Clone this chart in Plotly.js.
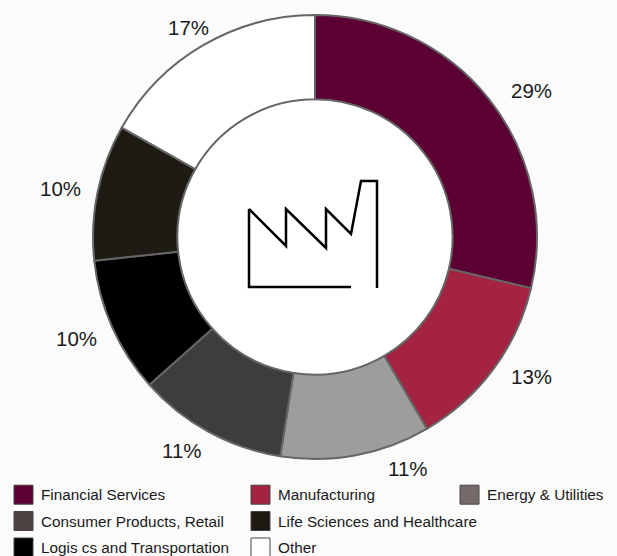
<!DOCTYPE html>
<html><head><meta charset="utf-8">
<script src="https://cdn.plot.ly/plotly-3.0.1.min.js"></script>
<style>html,body{margin:0;padding:0;background:#fbfbfb}</style></head>
<body><div id="chart" style="width:617px;height:556px"></div>
<script>
const W = 617, H = 556;
const sectors = ["Financial Services","Manufacturing","Energy & Utilities","Consumer Products, Retail","Logistics and Transportation","Life Sciences and Healthcare","Other"];
const shares = [28.7,12.9,10.9,10.9,9.9,9.9,16.8];
const shareLabels = ["29%","13%","11%","11%","10%","10%","17%"];
const sliceColors = ["#5c0033","#a32340","#9d9d9b","#3d3d3b","#000000","#1e1b14","#ffffff"];
const labelPos = [[531,91],[531,376],[408,468],[182,450],[76,338],[60,188],[188,27]];
const legendNames = ["Financial Services","Manufacturing","Energy & Utilities","Consumer Products, Retail","Life Sciences and Healthcare","Logis cs and Transportation","Other"];
const legendColors = ["#5c0033","#a32340","#75696a","#4c423f","#1e1812","#000000","#ffffff"];
const legendPos = [[14,494.7],[251,494.7],[460,494.7],[14,521],[251,521],[14,547.5],[251,547.5]];
const px = x => x / W, py = y => 1 - y / H;
const factory = [[249,209],[286,246],[286,209],[326,248],[326,209],[351,234],[361,181],[377,181],[377,288]];
const factoryBase = [[249,209],[249,287],[351,287]];
const toPath = pts => pts.map((p,i)=>(i?"L":"M")+px(p[0])+" "+py(p[1])).join(" ");
const shapes = [
 {type:"circle",layer:"below",xref:"paper",yref:"paper",x0:px(175),x1:px(455),y0:py(377),y1:py(97),fillcolor:"#ffffff",line:{width:0}},
 {type:"path",xref:"paper",yref:"paper",path:toPath(factory),line:{color:"#000",width:2.5}},
 {type:"path",xref:"paper",yref:"paper",path:toPath(factoryBase),line:{color:"#000",width:2.5}}
];
const annotations = [];
shareLabels.forEach((t,i)=>annotations.push({xref:"paper",yref:"paper",x:px(labelPos[i][0]),y:py(labelPos[i][1]),text:t,showarrow:false,xanchor:"center",yanchor:"middle",font:{size:20.5,color:"#1a1a1a"}}));
legendNames.forEach((t,i)=>{
 const [x,y]=legendPos[i];
 shapes.push({type:"rect",xref:"paper",yref:"paper",x0:px(x),x1:px(x+19),y0:py(y+9.5),y1:py(y-9.5),fillcolor:legendColors[i],line:{color:"#444",width:1}});
 annotations.push({xref:"paper",yref:"paper",x:px(x+27),y:py(y),xshift:-2,text:t,showarrow:false,xanchor:"left",yanchor:"middle",font:{size:15.3,color:"#1a1a1a"}});
});
Plotly.newPlot("chart",[{
 type:"pie",labels:sectors,values:shares,sort:false,direction:"clockwise",rotation:0,hole:0.62,
 marker:{colors:sliceColors,line:{color:"#666",width:2}},textinfo:"none",showlegend:false,
 domain:{x:[px(93),px(537)],y:[py(459),py(15)]}
}],{
 width:W,height:H,margin:{l:0,r:0,t:0,b:0},paper_bgcolor:"#fbfbfb",showlegend:false,
 font:{family:"Liberation Sans, Arial, sans-serif"},shapes,annotations
},{displayModeBar:false,staticPlot:true});
</script></body></html>
